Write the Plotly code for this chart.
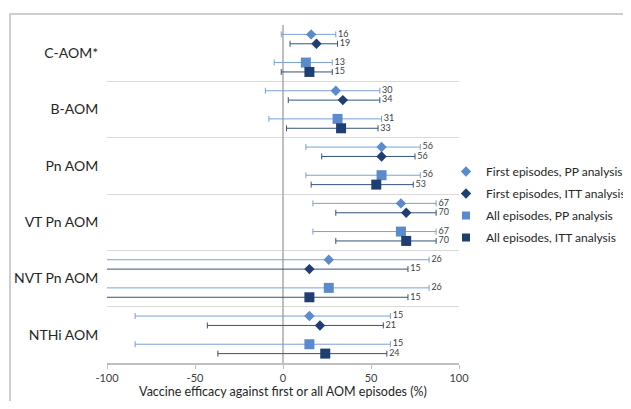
import plotly.graph_objects as go

categories = ["C-AOM*", "B-AOM", "Pn AOM", "VT Pn AOM", "NVT Pn AOM", "NTHi AOM"]
series_names = ["First episodes, PP analysis", "First episodes, ITT analysis",
                "All episodes, PP analysis", "All episodes, ITT analysis"]
x_ticks = [-100, -50, 0, 50, 100]
x_tick_labels = ["-100", "-50", "0", "50", "100"]

first_pp = [16, 30, 56, 67, 26, 15]
first_pp_lo = [-1, -10, 13, 17, -150, -84]
first_pp_hi = [30, 55, 78, 87, 83, 61]

first_itt = [19, 34, 56, 70, 15, 21]
first_itt_lo = [4, 3, 22, 30, -150, -43]
first_itt_hi = [31, 55, 75, 87, 71, 57]

all_pp = [13, 31, 56, 67, 26, 15]
all_pp_lo = [-5, -8, 13, 17, -150, -84]
all_pp_hi = [28, 56, 78, 87, 83, 61]

all_itt = [15, 33, 53, 70, 15, 24]
all_itt_lo = [-1, 2, 16, 30, -150, -37]
all_itt_hi = [28, 54, 74, 87, 71, 59]

LIGHT = "#5B8BCB"
DARK = "#1F3E72"
LIGHT_BAR = "#7AA0D6"
DARK_BAR = "#34527F"
FONT = "Lato"

series = [
    (first_pp, first_pp_lo, first_pp_hi, LIGHT, LIGHT_BAR, "diamond", 8, 1 / 6),
    (first_itt, first_itt_lo, first_itt_hi, DARK, DARK_BAR, "diamond", 8, 2 / 6),
    (all_pp, all_pp_lo, all_pp_hi, LIGHT, LIGHT_BAR, "square", 10, 4 / 6),
    (all_itt, all_itt_lo, all_itt_hi, DARK, DARK_BAR, "square", 10, 5 / 6),
]

fig = go.Figure()
for k, (name, (vals, lo, hi, col, bcol, sym, size, off)) in enumerate(zip(series_names, series)):
    ys = [i + off for i in range(len(categories))]
    fig.add_trace(go.Scatter(
        x=vals, y=ys, mode="markers", name=name, legendgroup=f"g{k}", showlegend=False,
        marker=dict(color=col, symbol=sym, size=size),
        error_x=dict(type="data", symmetric=False,
                     array=[h - v for h, v in zip(hi, vals)],
                     arrayminus=[v - l for v, l in zip(vals, lo)],
                     color=bcol, thickness=1, width=3),
    ))
    # legend entry with the small legend swatch used in the reference
    fig.add_trace(go.Scatter(
        x=[None], y=[None], mode="markers", name=name, legendgroup=f"g{k}",
        marker=dict(color=col, symbol=sym, size=8),
        hoverinfo="skip",
    ))
    fig.add_trace(go.Scatter(
        x=hi, y=ys, mode="text", text=[" " + str(v) for v in vals],
        textposition="middle right", showlegend=False, hoverinfo="skip",
        textfont=dict(size=9, color="#404040", family=FONT),
        cliponaxis=False,
    ))

# the page body adds an 8px offset; figure coordinates = page coordinates - 8
OFF = 8
W, H = 631 - OFF, 409 - 2 * OFF
PL, PR, PT, PB = 107, 459, 25, 363  # plot area in page pixels
L, R, T, B = PL - OFF, W - (PR - OFF), PT - OFF, H - (PB - OFF)
pw, ph = PR - PL, PB - PT


def px(xp):
    return (xp - PL) / pw


def py(yp):
    return (PB - yp) / ph


fig.update_layout(
    width=W, height=H,
    margin=dict(l=L, r=R, t=T, b=B, autoexpand=False),
    paper_bgcolor="white", plot_bgcolor="white",
    font=dict(family=FONT, color="#262626"),
    showlegend=True,
    legend=dict(x=px(446), y=py(157), xanchor="left", yanchor="top",
                font=dict(size=12, color="#262626", family=FONT),
                itemwidth=30, tracegroupgap=3, bgcolor="rgba(0,0,0,0)"),
    xaxis=dict(range=[-100, 100], tickvals=x_ticks, ticktext=x_tick_labels,
               showgrid=False, zeroline=True, zerolinecolor="#BFBFBF", zerolinewidth=1.5,
               showline=True, linecolor="#BFBFBF", linewidth=1.5,
               ticks="outside", ticklen=4, tickcolor="#BFBFBF", automargin=False,
               tickfont=dict(size=11, color="#404040"),
               title=dict(text="Vaccine efficacy against first or all AOM episodes (%)",
                          font=dict(size=12.5, color="#262626"), standoff=4)),
    yaxis=dict(range=[6, 0], tickvals=[i + 0.5 for i in range(len(categories))],
               ticktext=categories, showgrid=False, zeroline=False, automargin=False,
               ticks="outside", ticklen=5, tickcolor="rgba(0,0,0,0)",
               tickfont=dict(size=14, color="#262626"),
               minor=dict(tick0=0, dtick=1, showgrid=True, gridcolor="#D9D9D9", gridwidth=1)),
    shapes=[dict(type="rect", xref="paper", yref="paper",
                 x0=px(10), x1=px(660), y0=py(430), y1=py(14),
                 line=dict(color="#BFBFBF", width=1.5), fillcolor="rgba(0,0,0,0)", layer="below")],
)

fig.write_html("out.html")
